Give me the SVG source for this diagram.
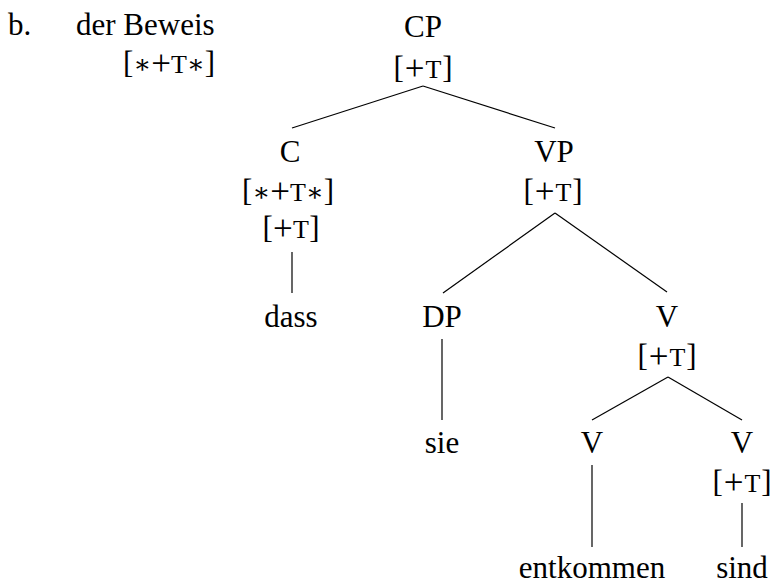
<svg xmlns="http://www.w3.org/2000/svg" width="774" height="585" viewBox="0 0 774 585">
<style>
.t{font-family:"Liberation Serif",serif;font-size:31px;fill:#000}
.m{text-anchor:middle}
.sc{font-size:26px}
.pl{font-size:35px}
.as{font-family:"DejaVu Serif",serif;font-size:26px}
#edges line{stroke:#000;stroke-width:1.2}
</style>
<rect width="774" height="585" fill="#fff"/>
<g id="edges">
<line x1="423" y1="86" x2="292" y2="128"/>
<line x1="423" y1="86" x2="555" y2="128"/>
<line x1="292" y1="252" x2="292" y2="293"/>
<line x1="555" y1="213" x2="443" y2="293"/>
<line x1="555" y1="213" x2="667" y2="292"/>
<line x1="442" y1="339" x2="442" y2="420"/>
<line x1="668" y1="377" x2="592" y2="420"/>
<line x1="668" y1="377" x2="742" y2="420"/>
<line x1="592" y1="465" x2="592" y2="547"/>
<line x1="742" y1="503" x2="742" y2="547"/>
</g>
<g font-family="Liberation Serif, serif" font-size="31">
<g id="label">
<text class="t" x="8" y="35">b.</text>
<text class="t" x="76" y="35">der Beweis</text>
<text class="t m" x="169" y="73" textLength="92" lengthAdjust="spacing">[<tspan class="as">∗</tspan><tspan class="pl" dy="2">+</tspan><tspan class="sc" dy="-2">T</tspan><tspan class="as">∗</tspan>]</text>
</g>
<g id="CP">
<text class="t m" x="423" y="37">CP</text>
<text class="t m" x="423" y="78" textLength="59" lengthAdjust="spacing">[<tspan class="pl" dy="2">+</tspan><tspan class="sc" dy="-2">T</tspan>]</text>
</g>
<g id="C">
<text class="t m" x="290" y="162">C</text>
<text class="t m" x="288" y="201" textLength="92" lengthAdjust="spacing">[<tspan class="as">∗</tspan><tspan class="pl" dy="2">+</tspan><tspan class="sc" dy="-2">T</tspan><tspan class="as">∗</tspan>]</text>
<text class="t m" x="291" y="238" textLength="57" lengthAdjust="spacing">[<tspan class="pl" dy="2">+</tspan><tspan class="sc" dy="-2">T</tspan>]</text>
</g>
<g id="dass"><text class="t m" x="291" y="327">dass</text></g>
<g id="VP">
<text class="t m" x="554" y="162">VP</text>
<text class="t m" x="553" y="201" textLength="59" lengthAdjust="spacing">[<tspan class="pl" dy="2">+</tspan><tspan class="sc" dy="-2">T</tspan>]</text>
</g>
<g id="DP"><text class="t m" x="442" y="327">DP</text></g>
<g id="sie"><text class="t m" x="442" y="453">sie</text></g>
<g id="V1">
<text class="t m" x="667" y="327">V</text>
<text class="t m" x="667" y="366" textLength="59" lengthAdjust="spacing">[<tspan class="pl" dy="2">+</tspan><tspan class="sc" dy="-2">T</tspan>]</text>
</g>
<g id="V2"><text class="t m" x="592" y="453">V</text></g>
<g id="entkommen"><text class="t m" x="592" y="578">entkommen</text></g>
<g id="V3">
<text class="t m" x="742" y="453">V</text>
<text class="t m" x="742" y="492" textLength="59" lengthAdjust="spacing">[<tspan class="pl" dy="2">+</tspan><tspan class="sc" dy="-2">T</tspan>]</text>
</g>
<g id="sind"><text class="t m" x="742" y="578">sind</text></g>
</g>
</svg>
